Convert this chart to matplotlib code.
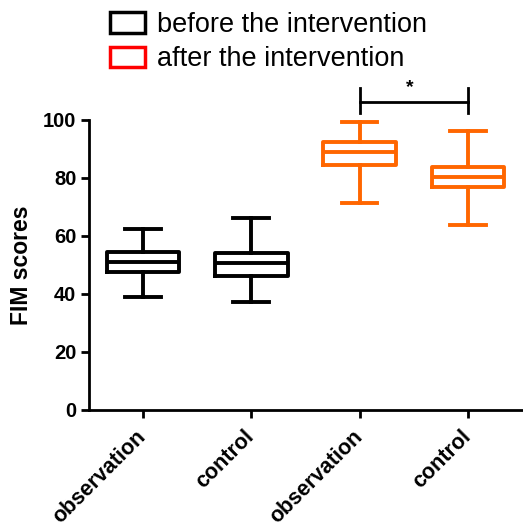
import matplotlib
matplotlib.use('Agg')
import matplotlib.pyplot as plt
from matplotlib.patches import Patch

plt.rcParams.update({
    'font.family': 'sans-serif',
    'font.sans-serif': ['Liberation Sans', 'Arial', 'DejaVu Sans'],
})

# Box statistics (FIM scores)
categories = ['observation', 'control', 'observation', 'control']
whislo = [38.9, 37.1, 71.3, 63.8]
q1 = [47.7, 46.3, 84.4, 76.8]
med = [50.9, 50.6, 89.0, 80.2]
q3 = [54.4, 54.1, 92.3, 83.7]
whishi = [62.4, 66.1, 99.2, 96.2]
groups = ['before', 'before', 'after', 'after']

BLACK = '#000000'
ORANGE = '#FF6600'
RED = '#FF0000'

fig = plt.figure(figsize=(5.23, 5.24), dpi=100)
ax = fig.add_axes([0.170, 0.2176, 0.828, 0.5534])

stats = []
for i in range(len(categories)):
    stats.append({'whislo': whislo[i], 'q1': q1[i], 'med': med[i],
                  'q3': q3[i], 'whishi': whishi[i], 'fliers': []})

positions = [1, 2, 3, 4]
for st, pos, g in zip(stats, positions, groups):
    c = BLACK if g == 'before' else ORANGE
    ax.bxp([st], positions=[pos], widths=0.67, showfliers=False,
           boxprops=dict(color=c, linewidth=2.8, solid_joinstyle='round'),
           medianprops=dict(color=c, linewidth=2.8),
           whiskerprops=dict(color=c, linewidth=2.8),
           capprops=dict(color=c, linewidth=2.8),
           capwidths=0.33)
    # clip off so the upper caps near 100 are not cut
    for art in ax.lines:
        art.set_clip_on(False)

ax.set_xlim(0.5, 4.5)
ax.set_ylim(0, 100)
ax.set_yticks([0, 20, 40, 60, 80, 100])
ax.set_xticks(positions)
ax.set_xticklabels(categories, rotation=45, ha='right', va='center',
                   rotation_mode='anchor', fontsize=15.5, fontweight='bold')
for lab in ax.get_yticklabels():
    lab.set_fontsize(14.5)
    lab.set_fontweight('bold')
ax.tick_params(axis='both', width=2, length=6, direction='out', pad=3)
ax.tick_params(axis='x', pad=11)
ax.set_ylabel('FIM scores', fontsize=16.5, fontweight='bold', labelpad=7)

for side in ['top', 'right']:
    ax.spines[side].set_visible(False)
for side in ['left', 'bottom']:
    ax.spines[side].set_linewidth(2)

# significance bracket between the two "after" groups
ax.plot([3, 4], [106.3, 106.3], color=BLACK, linewidth=2, clip_on=False)
ax.plot([3, 3], [102.4, 111.0], color=BLACK, linewidth=2, clip_on=False)
ax.plot([4, 4], [102.4, 111.0], color=BLACK, linewidth=2, clip_on=False)
ax.text(3.46, 109.6, '*', ha='center', va='baseline', fontsize=14,
        fontweight='bold', clip_on=False)

handles = [
    Patch(facecolor='white', edgecolor=BLACK, linewidth=2.5, label='before the intervention'),
    Patch(facecolor='white', edgecolor=RED, linewidth=2.5, label='after the intervention'),
]
fig.legend(handles=handles, loc='upper left', bbox_to_anchor=(0.174, 1.013),
           frameon=False, fontsize=19.5, handlelength=1.3, handleheight=0.8,
           handletextpad=0.45, labelspacing=0.3, borderaxespad=0.3)

fig.savefig('out.png', dpi=100, facecolor='white')
